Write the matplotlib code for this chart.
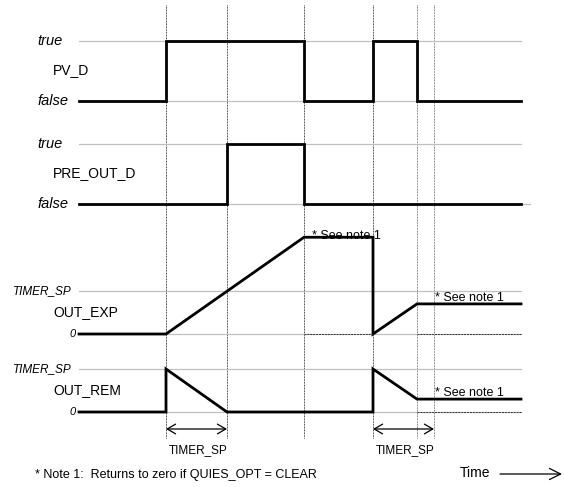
import matplotlib
matplotlib.use('Agg')
import matplotlib.pyplot as plt

SANS = 'Liberation Sans'

# time marks (horizontal position of the vertical reference lines)
event_t = [166, 227, 304, 373, 417, 434]
t_start, t_end = 79, 521

# signals: time points and levels (0 = false/0, 1 = true/TIMER_SP)
pv_d_t = [79, 166, 166, 304, 304, 373, 373, 417, 417, 521]
pv_d_v = [0, 0, 1, 1, 0, 0, 1, 1, 0, 0]
pre_out_t = [79, 227, 227, 304, 304, 521]
pre_out_v = [0, 0, 1, 1, 0, 0]
out_exp_t = [79, 166, 304, 373, 373, 417, 521]
out_exp_v = [0, 0, 2.25, 2.25, 0, 0.7, 0.7]
out_rem_t = [79, 166, 166, 227, 373, 373, 417, 521]
out_rem_v = [0, 0, 1, 0, 0, 1, 0.3, 0.3]

# rows: label, top level y, bottom level y, top text, bottom text
rows = [
    ('PV_D', 41, 101, 'true', 'false'),
    ('PRE_OUT_D', 144, 204, 'true', 'false'),
    ('OUT_EXP', 291, 334, 'TIMER_SP', '0'),
    ('OUT_REM', 369, 412, 'TIMER_SP', '0'),
]
signals = [(pv_d_t, pv_d_v), (pre_out_t, pre_out_v),
           (out_exp_t, out_exp_v), (out_rem_t, out_rem_v)]

fig = plt.figure(figsize=(5.64, 4.87), dpi=100)
ax = fig.add_axes([0, 0, 1, 1])
ax.set_xlim(0, 564)
ax.set_ylim(487, 0)
ax.axis('off')

# vertical time marks
for i, t in enumerate(event_t):
    c = '#666666' if i >= 4 else '#222222'
    ax.plot([t, t], [5, 438], color=c, lw=0.7, ls=(0, (0.8, 0.8)))

for (name, ytop, ybot, ttop, tbot), (ts, vs) in zip(rows, signals):
    ax.plot([t_start, t_end], [ytop, ytop], color='#c0c0c0', lw=0.9)
    ax.plot([t_start, 530 if name == 'PRE_OUT_D' else t_end], [ybot, ybot], color='#c0c0c0', lw=0.9)
    ys = [ybot - v * (ybot - ytop) for v in vs]
    ax.plot(ts, ys, color='black', lw=2.0, solid_joinstyle='miter')
    if tbot == 'false':
        ax.text(37, ytop, ttop, fontsize=10.5, style='italic', family=SANS, va='center', ha='left')
        ax.text(38, ybot, tbot, fontsize=10.5, style='italic', family=SANS, va='center', ha='left')
    else:
        ax.text(72, ytop, ttop, fontsize=8.5, style='italic', family=SANS, va='center', ha='right')
        ax.text(76, ybot, tbot, fontsize=8, style='italic', family=SANS, va='center', ha='right')
    ax.text(53, (ytop + ybot) / 2 - 0.5, name, fontsize=10, family=SANS, va='center', ha='left')

# dashed "cleared" lines
ax.plot([304, 373], [334, 334], color='#333333', lw=0.7, ls=(0, (2, 1)))
ax.plot([417, 521], [334, 334], color='#333333', lw=0.7, ls=(0, (2, 1)))
ax.plot([417, 521], [412, 412], color='#333333', lw=0.7, ls=(0, (2, 1)))

# notes
for x, y in [(312, 239), (435, 301), (435, 396)]:
    ax.text(x, y, '* See note 1', fontsize=9, family=SANS, va='baseline', ha='left')

# TIMER_SP span arrows
for a, b in [(event_t[0], event_t[1]), (event_t[3], event_t[5])]:
    ax.annotate('', xy=(a, 429), xytext=(b, 429),
                arrowprops=dict(arrowstyle='<->,head_length=0.6,head_width=0.35', color='black', lw=0.9,
                                shrinkA=0, shrinkB=0))
    ax.text((a + b) / 2 + 2, 450, 'TIMER_SP', fontsize=8.5, family=SANS, va='center', ha='center')

ax.text(35, 475, '* Note 1:  Returns to zero if QUIES_OPT = CLEAR', fontsize=9, family=SANS,
        va='center', ha='left')
ax.text(460, 473, 'Time', fontsize=10, family=SANS, va='center', ha='left')
ax.annotate('', xy=(562, 474), xytext=(500, 474),
            arrowprops=dict(arrowstyle='->,head_length=0.8,head_width=0.4', color='black', lw=0.9,
                            shrinkA=0, shrinkB=0))

fig.savefig('out.png', dpi=100)
